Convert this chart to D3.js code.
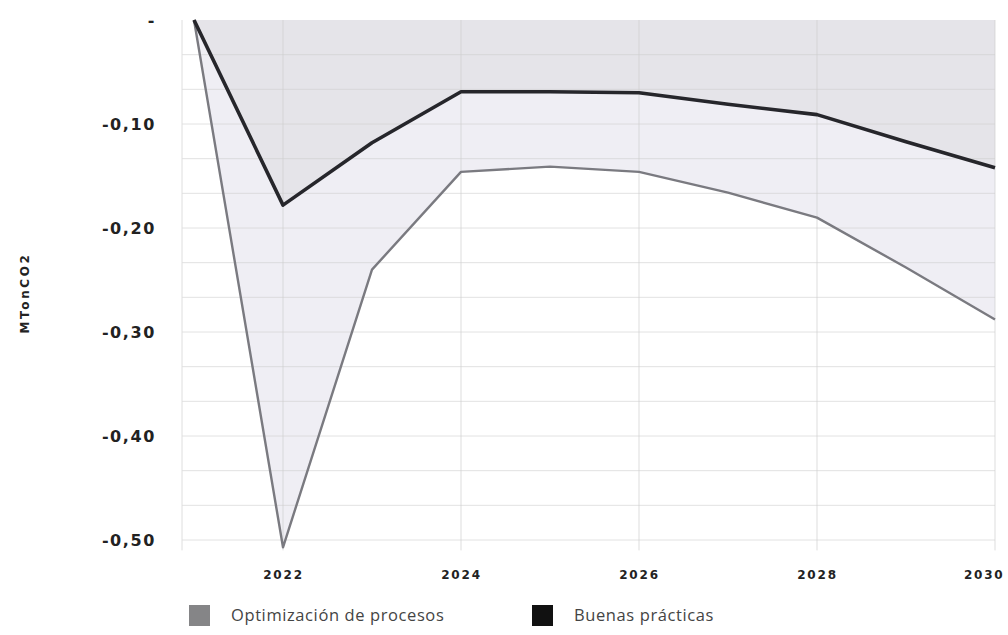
<!DOCTYPE html>
<html>
<head>
<meta charset="utf-8">
<script src="https://cdn.jsdelivr.net/npm/d3@7"></script>
<style>
  html, body { margin: 0; padding: 0; background: #ffffff; }
  svg { display: block; }
</style>
</head>
<body>
<svg id="chart" width="1008" height="635"></svg>
<script>
const years = [2021, 2022, 2023, 2024, 2025, 2026, 2027, 2028, 2029, 2030];
const optimizacion = [0, -0.507, -0.240, -0.146, -0.141, -0.146, -0.166, -0.190, -0.238, -0.288];
const buenasPracticas = [0, -0.178, -0.118, -0.069, -0.069, -0.070, -0.081, -0.091, -0.117, -0.142];
const yTicks = [0, -0.1, -0.2, -0.3, -0.4, -0.5];
const xTicks = [2022, 2024, 2026, 2028, 2030];
const seriesNames = ["Optimización de procesos", "Buenas prácticas"];
const yLabel = "MTonCO2";

const svg = d3.select("#chart");
const x = d3.scaleLinear().domain([2021, 2030]).range([194, 995]);
const y = d3.scaleLinear().domain([-0.51, 0]).range([550.4, 20]);

const data = years.map((yr, i) => ({ yr, o: optimizacion[i], b: buenasPracticas[i] }));

// areas
svg.append("path").datum(data)
  .attr("d", d3.area().x(d => x(d.yr)).y0(y(0)).y1(d => y(d.o)))
  .attr("fill", "#efeef4");
svg.append("path").datum(data)
  .attr("d", d3.area().x(d => x(d.yr)).y0(y(0)).y1(d => y(d.b)))
  .attr("fill", "#e5e4e9");

// grid (drawn over shading, faint)
const grid = svg.append("g");
const minor = d3.range(1, 16).map(i => -i / 30);
grid.selectAll("line.h").data(minor).join("line")
  .attr("x1", 182).attr("x2", x(2030))
  .attr("y1", d => y(d)).attr("y2", d => y(d))
  .attr("stroke", "#cfcfcf").attr("stroke-opacity", 0.6).attr("stroke-width", 1);
grid.selectAll("line.v").data([2022, 2024, 2026, 2028, 2030]).join("line")
  .attr("x1", d => x(d)).attr("x2", d => x(d))
  .attr("y1", y(0)).attr("y2", y(-0.51))
  .attr("stroke", "#cfcfcf").attr("stroke-opacity", 0.7).attr("stroke-width", 1);
grid.append("line").attr("x1", 182).attr("x2", 182).attr("y1", y(0)).attr("y2", y(-0.51))
  .attr("stroke", "#dedede");

// lines
svg.append("path").datum(data)
  .attr("d", d3.line().x(d => x(d.yr)).y(d => y(d.o)))
  .attr("fill", "none").attr("stroke", "#7a7a80").attr("stroke-width", 2.4)
  .attr("stroke-linejoin", "round");
svg.append("path").datum(data)
  .attr("d", d3.line().x(d => x(d.yr)).y(d => y(d.b)))
  .attr("fill", "none").attr("stroke", "#26262b").attr("stroke-width", 3.6)
  .attr("stroke-linejoin", "round");

// y axis
const yAxis = d3.axisLeft(y).tickValues(yTicks).tickSize(0)
  .tickFormat(d => d === 0 ? "-" : d.toFixed(2).replace(".", ","));
const yg = svg.append("g").attr("transform", "translate(156,0)").call(yAxis);
yg.select(".domain").remove();
yg.selectAll("text")
  .attr("x", 0).attr("dy", "0.36em")
  .attr("font-family", "'DejaVu Sans', sans-serif")
  .attr("font-weight", "bold").attr("font-size", 16)
  .attr("letter-spacing", "1.6px")
  .attr("fill", "#222");

// x axis
const xAxis = d3.axisBottom(x).tickValues(xTicks).tickSize(0).tickFormat(d3.format("d"));
const xg = svg.append("g").attr("transform", "translate(0,569)").call(xAxis);
xg.select(".domain").remove();
xg.selectAll("text")
  .attr("y", 0).attr("dy", "0.85em")
  .attr("font-family", "'DejaVu Sans', sans-serif")
  .attr("font-weight", "bold").attr("font-size", 12)
  .attr("letter-spacing", "1.8px")
  .attr("fill", "#222");
xg.selectAll(".tick").filter(d => d === 2030).select("text")
  .attr("text-anchor", "end").attr("x", 1004 - x(2030));

// y label
svg.append("text")
  .attr("transform", "translate(29,293) rotate(-90)")
  .attr("text-anchor", "middle")
  .attr("font-family", "'DejaVu Sans', sans-serif")
  .attr("font-weight", "bold").attr("font-size", 12)
  .attr("letter-spacing", "2.6px")
  .attr("fill", "#222")
  .text(yLabel);

// legend
const legendColors = ["#858587", "#111111"];
const legendX = [189, 532];
const lg = svg.append("g");
seriesNames.forEach((name, i) => {
  lg.append("rect").attr("x", legendX[i]).attr("y", 605).attr("width", 21).attr("height", 21)
    .attr("fill", legendColors[i]);
  lg.append("text").attr("x", legendX[i] + 42).attr("y", 621)
    .attr("font-family", "'Open Sans', sans-serif").attr("font-size", 16.5)
    .attr("letter-spacing", "0.6px")
    .attr("fill", "#444").text(name);
});
</script>
</body>
</html>
